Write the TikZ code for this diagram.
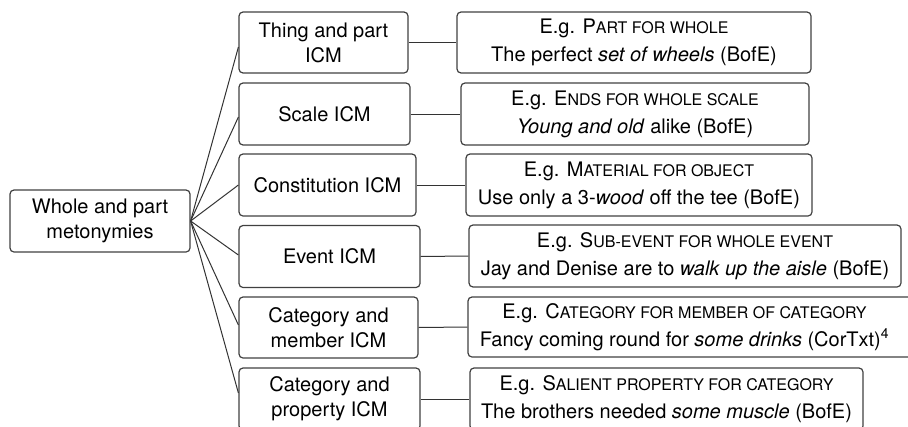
\documentclass[tikz,border=0pt]{standalone}
\usepackage{fontspec}
\setmainfont{TeX Gyre Heros}
\usetikzlibrary{calc}
\newcommand{\fsc}[2]{#1{\fontsize{16}{20}\selectfont #2}}
\begin{document}
\begin{tikzpicture}[x=1pt,y=-1pt,
  box/.style={draw=black!75, line width=1.2pt, rounded corners=4pt, inner sep=0pt,
    align=center, text=black},
  midbox/.style={box, font=\fontsize{20}{25}\selectfont, minimum height=62pt},
  exbox/.style={box, font=\fontsize{20}{28}\selectfont, minimum height=62pt},
  link/.style={draw=black!80, line width=1pt}]
\useasboundingbox (0,0) rectangle (908,426);
\clip (0,0) rectangle (908,426);

\node[midbox, minimum width=180pt] (root) at (100,221) {Whole and part\\metonymies};

\node[midbox, minimum width=169pt, minimum height=61pt] (m1) at (323.5,42.5) {Thing and part\\ICM};
\node[midbox, minimum width=171pt] (m2) at (324.5,114) {Scale ICM};
\node[midbox, minimum width=177pt] (m3) at (327.5,185) {Constitution ICM};
\node[midbox, minimum width=181pt] (m4) at (329.5,256.5) {Event ICM};
\node[midbox, minimum width=179pt, minimum height=61pt] (m5) at (328.5,327.5) {Category and\\member ICM};
\node[midbox, minimum width=181pt] (m6) at (329.5,399) {Category and\\property ICM};

\node[exbox, minimum width=354pt, minimum height=61pt] (r1) at (634,42.5)
  {E.g. \fsc{P}{ART FOR WHOLE}\\The perfect \textit{set of wheels} (BofE)};
\node[exbox, minimum width=348pt] (r2) at (635,114)
  {E.g. \fsc{E}{NDS FOR WHOLE SCALE}\\\textit{Young and old} alike (BofE)};
\node[exbox, minimum width=346pt] (r3) at (639,185)
  {E.g. \fsc{M}{ATERIAL FOR OBJECT}\\Use only a 3-\textit{wood} off the tee (BofE)};
\node[exbox, minimum width=432pt] (r4) at (685,256)
  {E.g. \fsc{S}{UB-EVENT FOR WHOLE EVENT}\\Jay and Denise are to \textit{walk up the aisle} (BofE)};
\node[exbox, minimum width=447pt, minimum height=60pt] (r5) at (691.5,327)
  {\hspace*{-14pt}E.g. \fsc{C}{ATEGORY FOR MEMBER OF CATEGORY}\\\hspace*{-14pt}Fancy coming round for \textit{some drinks} (CorTxt)\textsuperscript{4}};
\node[exbox, minimum width=393pt] (r6) at (666.5,399)
  {E.g. \fsc{S}{ALIENT PROPERTY FOR CATEGORY}\\The brothers needed \textit{some muscle} (BofE)};

\foreach \m/\dy in {m1/4.5, m2/3, m3/0, m4/-1.5, m5/-2.5, m6/-6} {
  \draw[link] (root.east) -- ($(\m.west)+(0,\dy)$);
}
\foreach \i in {1,...,6} {
  \draw[link] (m\i.east) -- (r\i.west);
}
\end{tikzpicture}
\end{document}
